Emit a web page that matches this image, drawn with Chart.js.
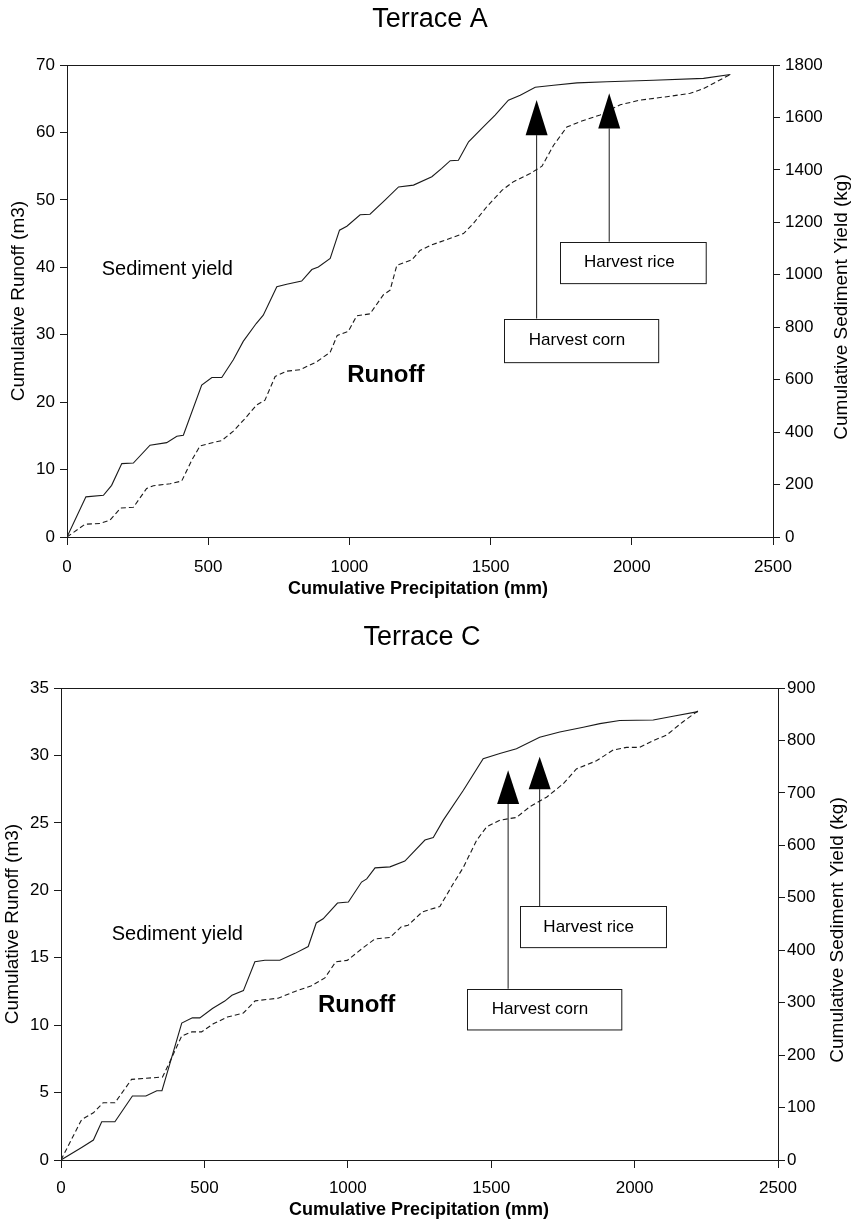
<!DOCTYPE html>
<html>
<head>
<meta charset="utf-8">
<script src="https://cdn.jsdelivr.net/npm/chart.js@4.4.0/dist/chart.umd.min.js"></script>
<style>
  html, body { margin: 0; padding: 0; background: #fff; }
  canvas { display: block; }
</style>
</head>
<body>
<canvas id="chartA" width="861" height="610"></canvas>
<canvas id="chartC" width="861" height="611"></canvas>
<script>
// ---- Data ------------------------------------------------------------------
// Terrace A – sediment yield (kg, right axis) vs cumulative precipitation (mm)
const precipA_sed = [0, 67, 129, 158, 194, 235, 294, 353, 389, 412, 477, 513, 548, 589, 624, 670, 695, 743, 778, 831,
  867, 890, 932, 965, 991, 1038, 1073, 1126, 1174, 1227, 1292, 1327, 1357, 1386, 1422, 1469, 1516, 1563, 1605, 1658,
  1723, 1806, 1912, 2077, 2254, 2349];
const sedimentA = [0, 153, 159, 197, 280, 282, 350, 360, 384, 388, 579, 608, 608, 676, 746, 814, 846, 954, 964, 976,
  1020, 1030, 1062, 1170, 1185, 1229, 1231, 1285, 1335, 1342, 1374, 1406, 1435, 1437, 1507, 1558, 1609, 1666, 1685, 1715,
  1723, 1732, 1736, 1742, 1749, 1764];

// Terrace A – runoff (m3, left axis)
const precipA_run = [0, 64, 117, 152, 190, 235, 282, 306, 365, 406, 442, 471, 507, 548, 589, 631, 672, 701, 737, 778,
  825, 885, 932, 957, 996, 1026, 1073, 1120, 1144, 1168, 1221, 1250, 1290, 1404, 1439, 1487, 1540, 1581, 1640, 1682,
  1723, 1770, 1817, 1888, 1959, 2030, 2124, 2207, 2254, 2349];
const runoffA = [0, 1.9, 2.0, 2.5, 4.3, 4.4, 7.2, 7.6, 7.9, 8.3, 11.4, 13.5, 13.9, 14.3, 15.7, 17.6, 19.6, 20.3, 23.8, 24.6,
  24.8, 26.0, 27.4, 29.9, 30.5, 32.8, 33.1, 35.9, 36.6, 40.3, 41.1, 42.5, 43.3, 45.0, 46.5, 49.0, 51.4, 52.7, 53.9, 55.0,
  58.1, 60.8, 61.6, 62.6, 64.1, 64.8, 65.3, 65.8, 66.5, 68.6];

// Terrace C – sediment yield (kg, right axis)
const precipC_sed = [0, 72, 113, 142, 188, 249, 296, 334, 352, 421, 458, 484, 528, 571, 596, 636, 676, 711, 763, 816,
  862, 890, 914, 964, 1002, 1048, 1066, 1095, 1147, 1199, 1269, 1298, 1333, 1403, 1472, 1530, 1588, 1669, 1739, 1821,
  1879, 1948, 2065, 2134, 2221];
const sedimentC = [0, 24, 38, 73, 73, 122, 122, 132, 132, 261, 271, 271, 289, 303, 314, 323, 378, 381, 381, 394,
  407, 452, 460, 490, 492, 530, 536, 557, 559, 570, 610, 615, 648, 705, 765, 775, 784, 806, 816, 825,
  832, 838, 839, 846, 855];

// Terrace C – runoff (m3, left axis)
const precipC_run = [0, 72, 113, 147, 188, 246, 354, 380, 421, 456, 490, 531, 580, 636, 677, 757, 816, 871, 920, 958,
  998, 1051, 1095, 1147, 1187, 1210, 1260, 1321, 1368, 1403, 1449, 1484, 1530, 1588, 1635, 1693, 1751, 1797, 1867, 1925,
  1972, 2018, 2065, 2111, 2169, 2221];
const runoffC = [0, 3.0, 3.5, 4.24, 4.24, 5.98, 6.15, 7.3, 9.2, 9.5, 9.5, 10.1, 10.6, 10.9, 11.8, 12.0, 12.5, 12.9, 13.5, 14.7,
  14.8, 15.7, 16.4, 16.5, 17.3, 17.4, 18.4, 18.8, 20.5, 21.7, 23.7, 24.7, 25.2, 25.4, 26.2, 26.9, 27.9, 29.0, 29.6, 30.4,
  30.6, 30.6, 31.1, 31.5, 32.5, 33.3];

// axis ranges / ticks
const precipTicks = { min: 0, max: 2500, step: 500 };
const runoffTicksA = { min: 0, max: 70, step: 10 };
const sedimentTicksA = { min: 0, max: 1800, step: 200 };
const runoffTicksC = { min: 0, max: 35, step: 5 };
const sedimentTicksC = { min: 0, max: 900, step: 100 };

// ---- Helpers ---------------------------------------------------------------
const FONT = '"Liberation Sans", Arial, Helvetica, sans-serif';
const INK = "#1a1a1a";
Chart.defaults.font.family = FONT;
Chart.defaults.color = "#000";

function pts(xs, ys) {
  return xs.map((x, i) => ({ x, y: ys[i] }));
}

function text(ctx, str, x, y, font, align = "center", rot = 0) {
  ctx.save();
  ctx.font = font;
  ctx.fillStyle = "#000";
  ctx.textAlign = align;
  ctx.textBaseline = "middle";
  ctx.translate(x, y);
  if (rot) ctx.rotate(rot);
  ctx.fillText(str, 0, 0);
  ctx.restore();
}

// frame, titles and the harvest annotations (given in data units)
const decorPlugin = {
  id: "decor",
  afterDraw(chart) {
    const { ctx, chartArea: a, scales } = chart;
    const d = chart.options.plugins.decor;
    const px = (v) => scales.x.getPixelForValue(v);
    const py = (v) => scales.y.getPixelForValue(v);

    ctx.save();
    ctx.strokeStyle = INK;
    ctx.lineWidth = 1;
    ctx.strokeRect(a.left + 0.5, a.top + 0.5, a.right - a.left, a.bottom - a.top);

    // arrows
    d.arrows.forEach((ar) => {
      const x = px(ar.x);
      ctx.beginPath();
      ctx.moveTo(x, py(ar.base));
      ctx.lineTo(x, py(ar.foot));
      ctx.stroke();
      ctx.beginPath();
      ctx.moveTo(x, py(ar.tip));
      ctx.lineTo(x - 11, py(ar.base));
      ctx.lineTo(x + 11, py(ar.base));
      ctx.closePath();
      ctx.fillStyle = "#000";
      ctx.fill();
    });

    // boxes
    d.boxes.forEach((b) => {
      const x0 = px(b.x0), x1 = px(b.x1), y0 = py(b.y0), y1 = py(b.y1);
      ctx.strokeRect(Math.round(x0) + 0.5, Math.round(y0) + 0.5, x1 - x0, y1 - y0);
      text(ctx, b.text, px(b.tx), (y0 + y1) / 2, "17px " + FONT);
    });
    ctx.restore();

    d.labels.forEach((l) => text(ctx, l.text, px(l.x), py(l.y), l.font, "left"));

    // titles
    text(ctx, d.title, d.titleX, d.titleY, "27px " + FONT);
    text(ctx, "Cumulative Runoff (m3)", d.leftX, (a.top + a.bottom) / 2, "19px " + FONT, "center", -Math.PI / 2);
    text(ctx, "Cumulative Sediment Yield (kg)", d.rightX, (a.top + a.bottom) / 2 + 6, "19px " + FONT, "center", -Math.PI / 2);
    text(ctx, "Cumulative Precipitation (mm)", d.bottomX, d.bottomY, "bold 18px " + FONT);
  },
};

function axis(t, position, pad, fitSize) {
  return {
    type: "linear",
    position,
    min: t.min,
    max: t.max,
    ticks: {
      stepSize: t.step,
      padding: pad,
      font: { size: 17 },
      color: "#000",
      callback: (v) => String(v), // no thousands separator
    },
    grid: { display: true, drawOnChartArea: false, drawTicks: true, tickLength: position === "bottom" ? 8 : 7, color: INK },
    border: { display: true, color: INK, width: 1 },
    afterFit(s) {
      if (position === "bottom") s.height = fitSize;
      else s.width = fitSize;
    },
  };
}

function build(id, cfg) {
  return new Chart(document.getElementById(id), {
    type: "line",
    data: {
      datasets: [
        {
          label: "Sediment yield",
          data: pts(cfg.sedX, cfg.sedY),
          yAxisID: "y1",
          borderColor: INK,
          borderWidth: 1.1,
          pointRadius: 0,
          tension: 0,
          fill: false,
        },
        {
          label: "Runoff",
          data: pts(cfg.runX, cfg.runY),
          yAxisID: "y",
          borderColor: INK,
          borderWidth: 1.1,
          borderDash: [5, 3],
          pointRadius: 0,
          tension: 0,
          fill: false,
        },
      ],
    },
    options: {
      responsive: false,
      animation: false,
      layout: { padding: { top: cfg.top, left: 0, right: 0, bottom: 0 } },
      plugins: {
        legend: { display: false },
        tooltip: { enabled: false },
        decor: cfg.decor,
      },
      scales: {
        x: axis(precipTicks, "bottom", cfg.xPad, cfg.xH),
        y: axis(cfg.runTicks, "left", cfg.yPad, cfg.leftW),
        y1: axis(cfg.sedTicks, "right", cfg.y1Pad, cfg.rightW),
      },
    },
    plugins: [decorPlugin],
  });
}

// ---- Charts ----------------------------------------------------------------
build("chartA", {
  sedX: precipA_sed, sedY: sedimentA, runX: precipA_run, runY: runoffA,
  runTicks: runoffTicksA, sedTicks: sedimentTicksA,
  top: 65, leftW: 67, rightW: 88, xH: 73, xPad: 12, yPad: 5, y1Pad: 5,
  decor: {
    title: "Terrace A", titleX: 430, titleY: 20,
    leftX: 19, rightX: 842, bottomX: 418, bottomY: 589,
    labels: [
      { text: "Sediment yield", x: 123, y: 39.6, font: "20px " + FONT },
      { text: "Runoff", x: 992, y: 24, font: "bold 24px " + FONT },
    ],
    arrows: [
      { x: 1663, tip: 64.8, base: 59.6, foot: 32.4 },
      { x: 1920, tip: 65.8, base: 60.6, foot: 43.8 },
    ],
    boxes: [
      { text: "Harvest corn", x0: 1549, x1: 2095, y0: 32.4, y1: 26.0, tx: 1806 },
      { text: "Harvest rice", x0: 1746, x1: 2262, y0: 43.8, y1: 37.7, tx: 1991 },
    ],
  },
});

build("chartC", {
  sedX: precipC_sed, sedY: sedimentC, runX: precipC_run, runY: runoffC,
  runTicks: runoffTicksC, sedTicks: sedimentTicksC,
  top: 78, leftW: 61, rightW: 83, xH: 61, xPad: 10, yPad: 5, y1Pad: 2,
  decor: {
    title: "Terrace C", titleX: 422, titleY: 28,
    leftX: 13, rightX: 838, bottomX: 419, bottomY: 600,
    labels: [
      { text: "Sediment yield", x: 177, y: 16.7, font: "20px " + FONT },
      { text: "Runoff", x: 896, y: 11.5, font: "bold 24px " + FONT },
    ],
    arrows: [
      { x: 1559, tip: 28.9, base: 26.4, foot: 12.7 },
      { x: 1669, tip: 29.9, base: 27.5, foot: 18.8 },
    ],
    boxes: [
      { text: "Harvest corn", x0: 1416, x1: 1954, y0: 12.7, y1: 9.7, tx: 1670 },
      { text: "Harvest rice", x0: 1602, x1: 2111, y0: 18.8, y1: 15.75, tx: 1840 },
    ],
  },
});
</script>
</body>
</html>
